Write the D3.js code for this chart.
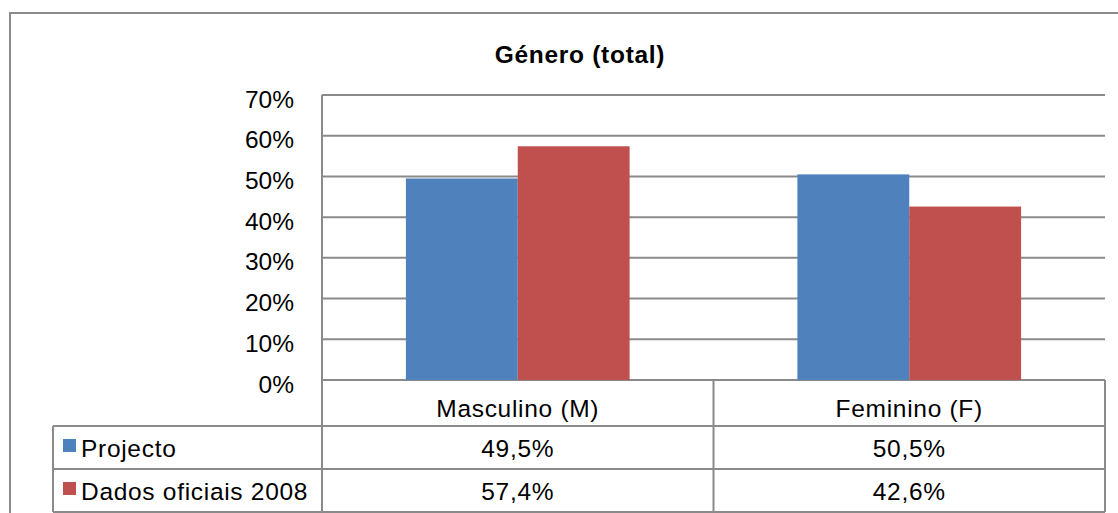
<!DOCTYPE html>
<html>
<head>
<meta charset="utf-8">
<script src="https://cdn.jsdelivr.net/npm/d3@7"></script>
<style>
  html, body { margin: 0; padding: 0; background: #fff; }
  svg { display: block; font-family: "Liberation Sans", Arial, sans-serif; font-variant-ligatures: none; }
  .lbl { letter-spacing: 0.7px; }
</style>
</head>
<body>
<svg id="chart" width="1118" height="513"></svg>
<script>
// Chart data
const title = "Género (total)";
const categories = ["Masculino (M)", "Feminino (F)"];
const seriesNames = ["Projecto", "Dados oficiais 2008"];
const projecto = [49.5, 50.5];
const dadosOficiais = [57.4, 42.6];
const yTicks = [0, 10, 20, 30, 40, 50, 60, 70];
const seriesColors = ["#4F81BD", "#C0504D"];

const seriesValues = [projecto, dadosOficiais];

const svg = d3.select("#chart");
const gridColor = "#8a8a8a";

// Layout of the plot and data table
const plot = { left: 322, right: 1105, top: 95, bottom: 380 };
const tableLeft = 53;
const rowH = [380, 426, 469, 512];

// Outer frame
svg.append("rect")
  .attr("x", 10).attr("y", 13)
  .attr("width", 1130).attr("height", 530)
  .attr("fill", "#fff").attr("stroke", gridColor).attr("stroke-width", 2);

// Title
svg.append("text")
  .attr("class", "lbl")
  .attr("x", 580).attr("y", 63)
  .attr("text-anchor", "middle")
  .attr("font-weight", "bold")
  .attr("font-size", 24.5)
  .attr("fill", "#000")
  .text(title);

// Scales
const y = d3.scaleLinear().domain([0, 70]).range([plot.bottom, plot.top]);
const x0 = d3.scaleBand().domain(categories).range([plot.left, plot.right]).padding(0);
const bw = x0.bandwidth();
const x1 = d3.scaleBand().domain(seriesNames)
  .range([bw * 0.75 / 3.5, bw * (1 - 0.75 / 3.5)]).padding(0);

// Gridlines
svg.append("g").selectAll("line")
  .data(yTicks)
  .join("line")
  .attr("x1", plot.left).attr("x2", plot.right)
  .attr("y1", d => y(d)).attr("y2", d => y(d))
  .attr("stroke", gridColor).attr("stroke-width", 2);

// Y axis labels
const yAxis = d3.axisLeft(y).tickValues(yTicks).tickSize(0).tickPadding(0)
  .tickFormat(d => d + "%");
const yg = svg.append("g").attr("transform", `translate(${plot.left - 28},0)`).call(yAxis);
yg.select(".domain").remove();
yg.selectAll("text")
  .attr("font-size", 24.5)
  .attr("font-family", "Liberation Sans, Arial, sans-serif")
  .attr("fill", "#000")
  .attr("dy", null)
  .attr("y", 12);

// Bars
const groups = svg.append("g").selectAll("g")
  .data(categories)
  .join("g")
  .attr("transform", d => `translate(${x0(d)},0)`);

groups.selectAll("rect")
  .data((c, i) => seriesNames.map((s, j) => ({ s, j, v: seriesValues[j][i] })))
  .join("rect")
  .attr("x", d => x1(d.s))
  .attr("width", x1.bandwidth())
  .attr("y", d => y(d.v))
  .attr("height", d => y(0) - y(d.v))
  .attr("fill", d => seriesColors[d.j]);

// Data table lines
const tbl = svg.append("g").attr("stroke", gridColor).attr("stroke-width", 2).attr("fill", "none");
// axis line extends down through the table
tbl.append("line").attr("x1", plot.left).attr("x2", plot.left).attr("y1", plot.top).attr("y2", rowH[3]);
tbl.append("line").attr("x1", plot.right).attr("x2", plot.right).attr("y1", rowH[0]).attr("y2", rowH[3]);
tbl.append("line").attr("x1", x0(categories[1])).attr("x2", x0(categories[1])).attr("y1", rowH[0]).attr("y2", rowH[3]);
tbl.append("line").attr("x1", tableLeft).attr("x2", tableLeft).attr("y1", rowH[1]).attr("y2", rowH[3]);
[rowH[1], rowH[2], rowH[3]].forEach(yy => {
  tbl.append("line").attr("x1", tableLeft).attr("x2", plot.right).attr("y1", yy).attr("y2", yy);
});

// Category header row
svg.append("g").selectAll("text")
  .data(categories)
  .join("text")
  .attr("class", "lbl")
  .attr("x", d => x0(d) + bw / 2)
  .attr("y", 417)
  .attr("text-anchor", "middle")
  .attr("font-size", 24.5)
  .attr("fill", "#000")
  .text(d => d);

// Series rows: legend key, name and values
const fmt = v => v.toFixed(1).replace(".", ",") + "%";
seriesNames.forEach((name, j) => {
  const top = rowH[j + 1];
  const bottom = rowH[j + 2];
  const base = bottom - 12.5;
  svg.append("rect")
    .attr("x", 63).attr("y", top + 13)
    .attr("width", 13).attr("height", 13)
    .attr("fill", seriesColors[j]);
  svg.append("text")
    .attr("class", "lbl")
    .attr("x", 81).attr("y", base)
    .attr("font-size", 24.5)
    .attr("fill", "#000")
    .text(name);
  svg.append("g").selectAll("text")
    .data(categories)
    .join("text")
    .attr("class", "lbl")
    .attr("x", d => x0(d) + bw / 2)
    .attr("y", base)
    .attr("text-anchor", "middle")
    .attr("font-size", 24.5)
    .attr("fill", "#000")
    .text((d, i) => fmt(seriesValues[j][i]));
});
</script>
</body>
</html>
